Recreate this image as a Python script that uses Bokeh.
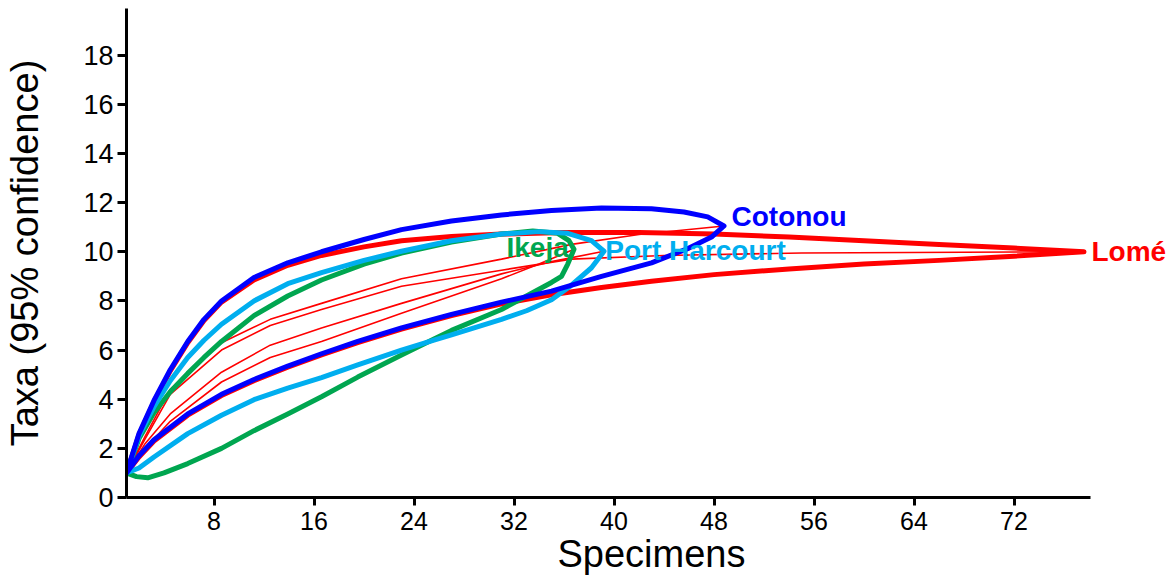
from bokeh.plotting import figure
from bokeh.models import Range1d, FixedTicker, Label
from bokeh.embed import file_html
from bokeh.resources import INLINE

# ---------------- data ----------------
x_ticks = [8, 16, 24, 32, 40, 48, 56, 64, 72]
y_ticks = [0, 2, 4, 6, 8, 10, 12, 14, 16, 18]

sites = ["Lomé", "Ikeja", "Port Harcourt", "Cotonou"]

# Cotonou (blue) 95% confidence envelope
cot_up_x = [1, 2, 3.2, 4.5, 5.9, 7.2, 8.6, 11.2, 13.9, 16.6, 20, 23, 27, 31, 35, 39, 43, 45.6, 47.5, 48.8]
cot_up_y = [1, 2.6, 3.95, 5.2, 6.35, 7.25, 8.0, 8.95, 9.55, 10.0, 10.5, 10.9, 11.25, 11.5, 11.68, 11.78, 11.75, 11.62, 11.42, 11.05]
cot_lo_x = [48.8, 47.8, 46, 43, 39, 35, 31, 27, 23, 19.5, 16.6, 13.9, 11.2, 8.6, 5.9, 3.2, 2, 1]
cot_lo_y = [11.05, 10.6, 10.15, 9.55, 9.0, 8.4, 7.95, 7.45, 6.9, 6.35, 5.85, 5.35, 4.8, 4.2, 3.4, 2.35, 1.7, 1]

# Lomé (red) 95% confidence envelope
lom_up_x = [1, 2, 3.2, 4.5, 5.9, 7.2, 8.6, 11.2, 13.9, 16.6, 20, 23, 27, 31, 36, 42, 48, 54, 60, 66, 72, 77.6]
lom_up_y = [1, 2.55, 3.9, 5.15, 6.3, 7.2, 7.95, 8.85, 9.45, 9.85, 10.2, 10.45, 10.62, 10.72, 10.78, 10.78, 10.72, 10.6, 10.45, 10.3, 10.15, 10.0]
lom_lo_x = [77.6, 72, 66, 60, 54, 48, 43, 39, 35, 31, 27, 23, 19.5, 16.6, 13.9, 11.2, 8.6, 5.9, 3.2, 2, 1]
lom_lo_y = [10.0, 9.82, 9.65, 9.5, 9.3, 9.07, 8.8, 8.55, 8.25, 7.88, 7.4, 6.85, 6.3, 5.8, 5.3, 4.75, 4.15, 3.35, 2.3, 1.65, 1]

# Port Harcourt (cyan) 95% confidence envelope
ph_up_x = [1, 2, 3.2, 4.5, 5.9, 7.2, 8.6, 11.2, 13.9, 16.6, 20, 23, 27, 31, 34, 36.3, 38.2, 39.2]
ph_up_y = [1, 2.5, 3.7, 4.75, 5.7, 6.4, 7.05, 8.0, 8.7, 9.15, 9.65, 10.02, 10.45, 10.72, 10.82, 10.75, 10.45, 10.02]
ph_lo_x = [39.2, 38.2, 36.5, 35, 33, 31, 27, 25.6, 23, 19.5, 16.6, 13.9, 11.2, 8.6, 5.9, 3.2, 2, 1]
ph_lo_y = [10.02, 9.35, 8.6, 8.05, 7.6, 7.25, 6.62, 6.4, 6.0, 5.4, 4.88, 4.45, 3.98, 3.35, 2.6, 1.65, 1.2, 1]

# Ikeja (green) 95% confidence envelope
ike_up_x = [1, 2, 3.2, 4.5, 5.9, 7.2, 8.6, 11.2, 13.9, 16.6, 20, 23, 27, 31, 33.5, 35.5, 36.4, 36.8]
ike_up_y = [1, 2.4, 3.45, 4.3, 5.05, 5.7, 6.35, 7.4, 8.2, 8.85, 9.5, 9.95, 10.4, 10.72, 10.85, 10.75, 10.45, 10.1]
ike_lo_x = [36.8, 36.3, 35.8, 35, 33, 31, 27, 25.6, 23, 19.5, 16.6, 13.9, 11.2, 8.6, 5.9, 4, 2.7, 1.8, 1]
ike_lo_y = [10.1, 9.5, 9.0, 8.75, 8.2, 7.65, 6.8, 6.45, 5.8, 4.9, 4.1, 3.4, 2.72, 2.0, 1.38, 1.0, 0.8, 0.85, 1]

# thin red mean rarefaction curves
mean_cot_x = [1, 2.5, 4.5, 8.6, 12.5, 16.6, 23, 31, 36.6, 42, 48.8]
mean_cot_y = [1, 2.5, 4.4, 6.3, 7.25, 7.9, 8.9, 9.7, 10.3, 10.7, 11.05]
mean_lom_x = [1, 2.5, 4.5, 8.6, 12.5, 16.6, 23, 31, 36.6, 44, 55, 77.6]
mean_lom_y = [1, 2.4, 4.2, 6.0, 7.0, 7.65, 8.6, 9.25, 9.7, 9.85, 9.95, 10.0]
mean_ph_x = [1, 2.5, 4.5, 8.6, 12.5, 16.6, 23, 31, 35, 39.2]
mean_ph_y = [1, 2.2, 3.4, 5.1, 6.2, 6.9, 7.9, 9.1, 9.6, 10.02]
mean_ike_x = [1, 2.5, 4.5, 8.6, 12.5, 16.6, 23, 31, 34, 36.8]
mean_ike_y = [1, 2.0, 3.1, 4.7, 5.7, 6.35, 7.5, 8.9, 9.5, 10.1]

# label anchor points (site name next to its envelope tip)
label_x = [78.2, 31.4, 39.3, 49.4]
label_y = [10.0, 10.16, 10.04, 11.42]

# ---------------- styling ----------------
RED = "#FF0000"
GREEN = "#00A650"
CYAN = "#00AEEF"
BLUE = "#0000FF"
colors = [RED, GREEN, CYAN, BLUE]
FONT = "Liberation Sans"

p = figure(width=1176, height=578, output_backend="svg", toolbar_location=None,
           x_range=Range1d(1, 85), y_range=Range1d(0, 19.9),
           min_border_left=126, min_border_right=0, min_border_top=8, min_border_bottom=81)
p.outline_line_color = None
p.grid.visible = False
p.background_fill_color = "white"
p.border_fill_color = "white"

for ax in (p.xaxis, p.yaxis):
    ax.axis_line_width = 3
    ax.axis_line_color = "black"
    ax.major_tick_line_width = 3
    ax.major_tick_line_color = "black"
    ax.major_tick_in = 0
    ax.minor_tick_line_color = None
    ax.major_label_text_font = FONT
    ax.major_label_text_color = "black"
    ax.axis_label_text_font = FONT
    ax.axis_label_text_font_style = "normal"
    ax.axis_label_text_font_size = "38px"
    ax.axis_label_text_color = "black"
p.xaxis.major_label_text_font_size = "25px"
p.yaxis.major_label_text_font_size = "27px"
p.xaxis.bounds = (1, 78.1)
p.xaxis.major_tick_out = 8
p.yaxis.major_tick_out = 9
p.xaxis.ticker = FixedTicker(ticks=x_ticks)
p.yaxis.ticker = FixedTicker(ticks=y_ticks)
p.xaxis.major_label_standoff = 6
p.yaxis.major_label_standoff = 4
p.xaxis.axis_label = "Specimens"
p.yaxis.axis_label = "Taxa (95% confidence)"
p.xaxis.axis_label_standoff = 0
p.yaxis.axis_label_standoff = 34

# thin mean curves (underneath)
for mx, my in [(mean_cot_x, mean_cot_y), (mean_lom_x, mean_lom_y),
               (mean_ph_x, mean_ph_y), (mean_ike_x, mean_ike_y)]:
    p.line(mx, my, line_color=RED, line_width=1.6)

# envelopes
envelopes = [
    (lom_up_x + lom_lo_x, lom_up_y + lom_lo_y),
    (ike_up_x + ike_lo_x, ike_up_y + ike_lo_y),
    (ph_up_x + ph_lo_x, ph_up_y + ph_lo_y),
    (cot_up_x + cot_lo_x, cot_up_y + cot_lo_y),
]
for (ex, ey), c in zip(envelopes, colors):
    p.line(ex, ey, line_color=c, line_width=5, line_join="round", line_cap="round")

# site labels
for name, lx, ly, c in zip(sites, label_x, label_y, colors):
    p.add_layout(Label(x=lx, y=ly, text=name, text_color=c, text_font=FONT,
                       text_font_style="bold", text_font_size="28px",
                       text_baseline="middle", text_align="left"))

open("out.html", "w").write(file_html(p, INLINE))
